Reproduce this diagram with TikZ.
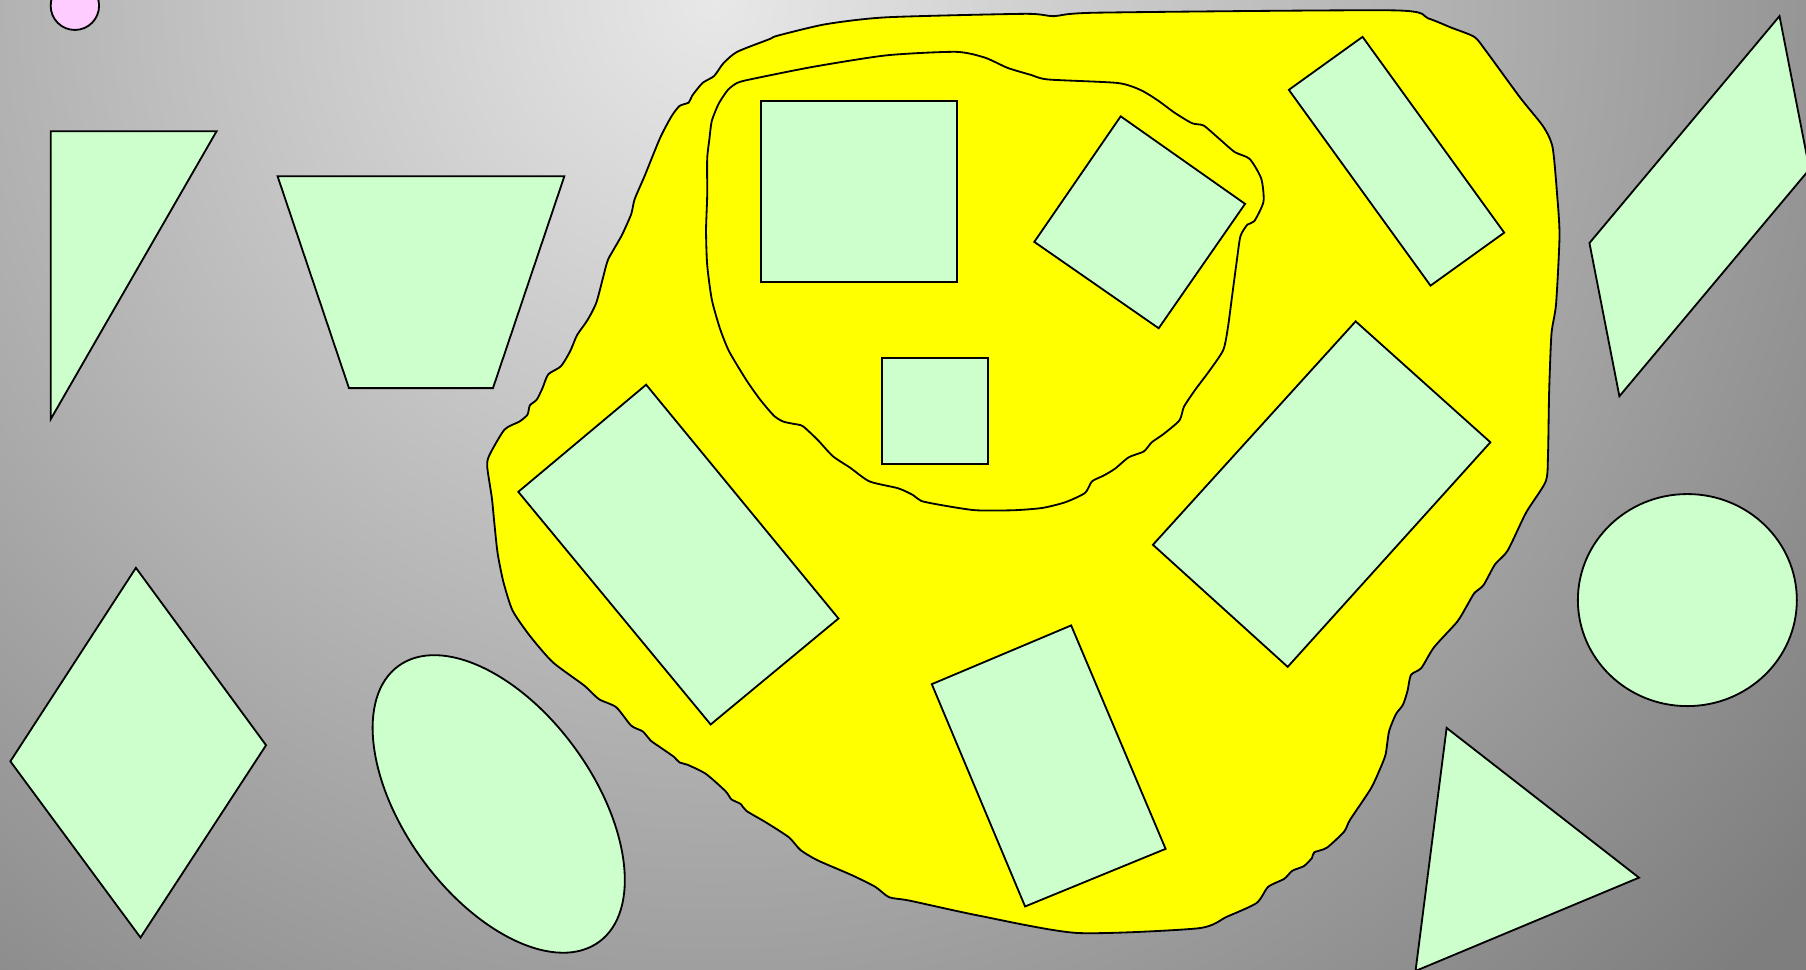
\documentclass[tikz,border=0pt]{standalone}
\usetikzlibrary{positioning}
\definecolor{bgtop}{HTML}{E8E8E8}
\definecolor{bgbot}{HTML}{7E7E7E}
\definecolor{blobyellow}{HTML}{FFFF00}
\definecolor{piecegreen}{HTML}{CCFFCC}
\definecolor{dotpink}{HTML}{FFCCFF}
\begin{document}
\begin{tikzpicture}[
    x=0.01cm, y=-0.01cm,
    piece/.style={draw=black, line width=0.45pt, fill=piecegreen, line join=miter},
    blob/.style={draw=black, line width=0.45pt, fill=blobyellow},
    rim/.style={draw=black, line width=0.45pt}
]
  \useasboundingbox (0,0) rectangle (1568,842);
  \clip (0,0) rectangle (1568,842);

  % Background glow
  \fill[bgbot] (0,0) rectangle (1568,842);
  \shade[inner color=bgtop, outer color=bgbot] (620,0) circle [radius=12.2cm];

  % Outer yellow region
  \path[blob] plot[smooth cycle, tension=0.4] coordinates {
    (915,14) (953,11) (1210,9) (1240,16) (1260,24) (1280,32) (1290,44)
    (1320,85) (1340,110) (1348,128) (1352,170) (1354,205) (1351,264)
    (1347,290) (1345,340) (1344,395) (1342,418) (1325,445) (1309,478)
    (1298,490) (1288,508) (1280,515) (1273,527) (1265,540) (1245,562)
    (1234,580) (1225,586) (1222,600) (1218,612) (1212,620) (1206,635)
    (1203,655) (1198,668) (1190,685) (1172,712) (1167,722) (1152,736)
    (1141,740) (1139,745) (1132,752) (1122,756) (1115,763) (1101,770)
    (1091,784) (1065,796) (1040,806) (935,810) (850,795) (790,782)
    (772,779) (760,770) (740,760) (710,747) (695,738) (685,727) (665,714)
    (648,704) (643,698) (635,694) (630,687) (613,672) (597,664) (590,662)
    (585,657) (572,648) (565,643) (558,635) (548,630) (535,614) (520,607)
    (507,595) (480,575) (460,552) (445,530) (437,505) (432,480) (429,452)
    (427,432) (423,405) (425,395) (438,373) (451,366) (458,360) (460,352)
    (466,347) (471,337) (476,325) (487,318) (495,305) (501,291) (510,278)
    (518,262) (527,228) (532,218) (540,204) (548,186) (551,173) (560,152)
    (573,120) (583,101) (590,92) (598,89) (601,83) (610,72) (620,66)
    (628,55) (640,45) (668,34) (675,31) (717,21) (770,15) (890,12)};

  % Inner outline
  \path[rim] plot[smooth cycle, tension=0.4] coordinates {
    (651,69) (706,58) (770,48) (830,45) (855,50) (875,59) (895,65)
    (910,69) (970,72) (990,78) (1005,87) (1020,98) (1035,107) (1045,109)
    (1058,120) (1072,132) (1085,138) (1095,155) (1097,175) (1089,192)
    (1083,195) (1077,205) (1074,225) (1070,255) (1066,285) (1062,304)
    (1050,322) (1038,338) (1028,353) (1024,365) (1010,377) (1000,384)
    (993,392) (980,397) (968,407) (958,413) (948,418) (942,428) (925,436)
    (905,441) (880,443) (847,443) (820,439) (800,435) (793,430) (780,424)
    (755,418) (738,406) (723,396) (710,382) (697,370) (689,368) (680,366)
    (672,361) (660,347) (648,330) (633,305) (625,285) (618,260) (614,230)
    (613,200) (614,170) (614,138) (616,120) (618,105) (624,90) (632,78)
    (640,72)};

  % Pieces outside
  \draw[line width=0.45pt, fill=dotpink] (65,5) circle [radius=0.21cm];
  \draw[piece] (44,114) -- (188,114) -- (44,364) -- cycle;
  \draw[piece] (241,153) -- (490,153) -- (428,337) -- (303,337) -- cycle;
  \draw[piece] (118,493) -- (231,647) -- (122,814) -- (9,661) -- cycle;
  \draw[piece, shift={(433,698)}, rotate=-54] (0,0) ellipse [x radius=1.48cm, y radius=0.82cm];
  \draw[piece] (1545,14) -- (1380,211) -- (1406,344) -- (1571,147) -- cycle;
  \draw[piece] (1465,521) ellipse [x radius=0.95cm, y radius=0.92cm];
  \draw[piece] (1256,632) -- (1423,762) -- (1229,843) -- cycle;

  % Pieces on the region
  \draw[piece] (561,334) -- (728,537) -- (617,629) -- (450,427) -- cycle;
  \draw[piece] (661,88) rectangle (831,245);
  \draw[piece] (766,311) rectangle (858,403);
  \draw[piece] (973,101) -- (1081,177) -- (1006,285) -- (898,210) -- cycle;
  \draw[piece] (1183,32) -- (1306,202) -- (1242,248) -- (1119,78) -- cycle;
  \draw[piece] (1177,279) -- (1294,384) -- (1118,579) -- (1001,473) -- cycle;
  \draw[piece] (809,594) -- (930,543) -- (1012,737) -- (890,787) -- cycle;
\end{tikzpicture}
\end{document}
